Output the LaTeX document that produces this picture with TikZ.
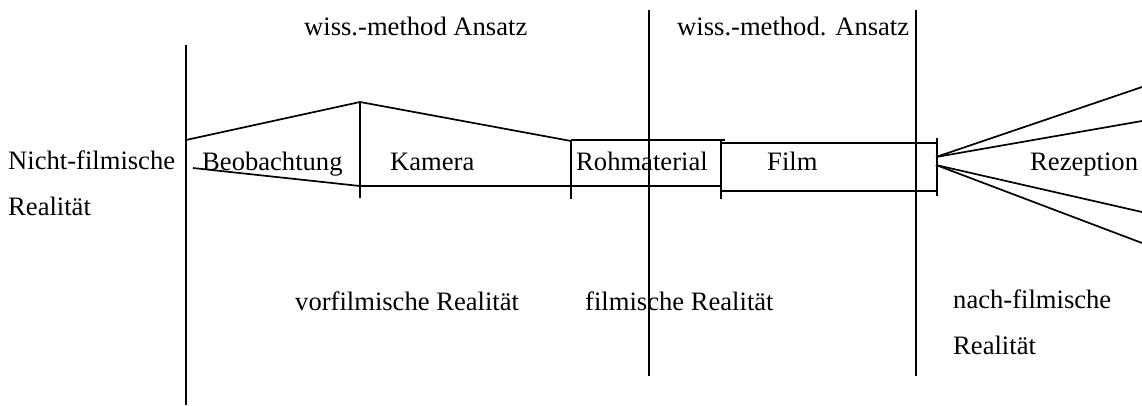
\documentclass[tikz,border=0pt]{standalone}
\usepackage{fontspec}
\setmainfont{Liberation Serif}
\begin{document}
\begin{tikzpicture}[x=1pt,y=-1pt,
  lbl/.style={anchor=base west,inner sep=0pt,font=\fontsize{26.6}{31}\selectfont},
  ln/.style={line width=1.7pt,line cap=butt}]
\useasboundingbox (0,0) rectangle (1142,405);
% separator lines
\coordinate (s1t) at (186,45);  \coordinate (s1b) at (186,405);
\coordinate (s2t) at (649,10);  \coordinate (s2b) at (649,376);
\coordinate (s3t) at (916,10);  \coordinate (s3b) at (916,376);
\draw[ln] (s1t) -- (s1b);
\draw[ln] (s2t) -- (s2b);
\draw[ln] (s3t) -- (s3b);
% funnel (Beobachtung / Kamera)
\coordinate (f1) at (186,140);
\coordinate (f2) at (360,102);
\coordinate (f3) at (571,141);
\coordinate (f4) at (193,168);
\coordinate (f5) at (360,186);
\coordinate (f6) at (360,198);
\draw[ln] (f1) -- (f2) -- (f3);
\draw[ln] (f4) -- (f5);
\draw[ln] (f2) -- (f6);
\draw[ln] (f5) -- (571,186);
% Rohmaterial box
\coordinate (r1) at (571,140);
\coordinate (r2) at (571,199);
\coordinate (r3) at (721,141);
\coordinate (r4) at (721,199);
\draw[ln] (r1) -- (r2);
\draw[ln] (r3) -- (r4);
\draw[ln] (r1) -- (725,140);
\draw[ln] (571,186) -- (721,186);
% Film box
\draw[ln] (721,143) -- (937,143);
\draw[ln] (721,191) -- (937,191);
\coordinate (fe1) at (937,138);
\coordinate (fe2) at (937,196);
\draw[ln] (fe1) -- (fe2);
% fan
\coordinate (o1) at (936,157);
\coordinate (o2) at (936,165);
\draw[ln] (o1) -- (1142,87);
\draw[ln] (o1) -- (1142,121);
\draw[ln] (o2) -- (1142,212);
\draw[ln] (o2) -- (1142,243);
% texts
\node[lbl] (t1) at (304,35) {wiss.-method Ansatz};
\node[lbl] (t2) at (677,35) {wiss.-method. Ansatz};
\node[lbl] (n1) at (8,169) {Nicht-filmische};
\node[lbl] (n2) at (8,215) {Realität};
\node[lbl] (b) at (202,170) {Beobachtung};
\node[lbl] (k) at (390,170) {Kamera};
\node[lbl] (rm) at (576,170) {Rohmaterial};
\node[lbl] (fi) at (767,170) {Film};
\node[lbl] (re) at (1030,170) {Rezeption};
\node[lbl] (v) at (295,310) {vorfilmische Realität};
\node[lbl] (f) at (585,310) {filmische Realität};
\node[lbl] (na1) at (953,308) {nach-filmische};
\node[lbl] (na2) at (953,354) {Realität};
\end{tikzpicture}
\end{document}
